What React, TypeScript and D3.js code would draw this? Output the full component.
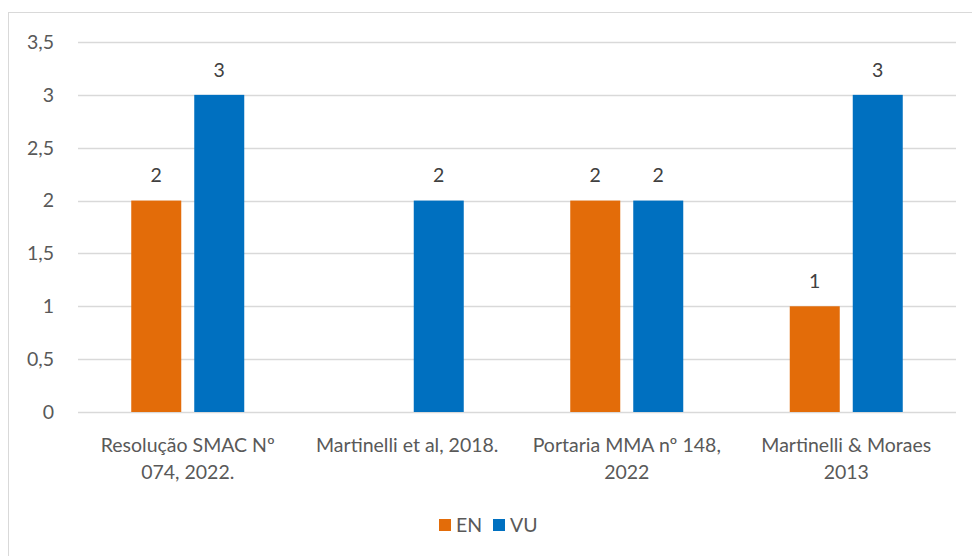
import React from "react";
import * as d3 from "d3";

const categories: string[][] = [
  ["Resolução SMAC Nº", "074, 2022."],
  ["Martinelli et al, 2018."],
  ["Portaria MMA nº 148,", "2022"],
  ["Martinelli & Moraes", "2013"],
];
const seriesNames = ["EN", "VU"];
const enValues: (number | null)[] = [2, null, 2, 1];
const vuValues: (number | null)[] = [3, 2, 2, 3];
const yTicks = [0, 0.5, 1, 1.5, 2, 2.5, 3, 3.5];
const colors = ["#E36C09", "#0070C0"];

const W = 972;
const H = 556;
const FONT = "Lato, 'Open Sans', sans-serif";

export default function App() {
  const left = 78, right = 956, top = 42, bottom = 412;
  const y = d3.scaleLinear().domain([0, 3.5]).range([bottom, top]);
  const x = d3.scaleBand<number>().domain(d3.range(categories.length)).range([left, right]).paddingInner(0).paddingOuter(0);
  const bw = x.bandwidth();
  const barW = 50;
  const gap = 13;
  const series = [enValues, vuValues];
  const fmt = (v: number) => String(v).replace(".", ",");

  return (
    <svg width={W} height={H} style={{ position: "absolute", left: 0, top: 0, background: "#fff" }} fontFamily={FONT}>
      <rect x={8.5} y={12.5} width={W + 10} height={H + 10} fill="#fff" stroke="#d9d9d9" strokeWidth={1} />
      {yTicks.map((t) => (
        <g key={t}>
          <line x1={left} x2={right} y1={Math.round(y(t)) + 0.5} y2={Math.round(y(t)) + 0.5} stroke="#d9d9d9" strokeWidth={1.3} />
          <text x={54} y={y(t)} dy="0.35em" textAnchor="end" fontSize={19.5} fill="#595959">{fmt(t)}</text>
        </g>
      ))}
      {categories.map((lines, i) => {
        const cx = (x(i) as number) + bw / 2;
        return (
          <g key={i}>
            {series.map((vals, s) => {
              const v = vals[i];
              if (v == null) return null;
              const bx = s === 0 ? cx - gap / 2 - barW : cx + gap / 2;
              return (
                <g key={s}>
                  <rect x={bx} y={y(v)} width={barW} height={y(0) - y(v)} fill={colors[s]} />
                  <text x={bx + barW / 2} y={y(v) - 25} dy="0.35em" textAnchor="middle" fontSize={19.5} fill="#404040">{v}</text>
                </g>
              );
            })}
            {lines.map((ln, j) => (
              <text key={j} x={cx} y={445 + j * 27} dy="0.35em" textAnchor="middle" fontSize={19.5} fill="#595959">{ln}</text>
            ))}
          </g>
        );
      })}
      {seriesNames.map((n, s) => {
        const lx = 439 + s * 54;
        return (
          <g key={n}>
            <rect x={lx} y={519} width={12} height={12} fill={colors[s]} />
            <text x={lx + 17} y={525} dy="0.35em" fontSize={19.5} fill="#595959">{n}</text>
          </g>
        );
      })}
    </svg>
  );
}
